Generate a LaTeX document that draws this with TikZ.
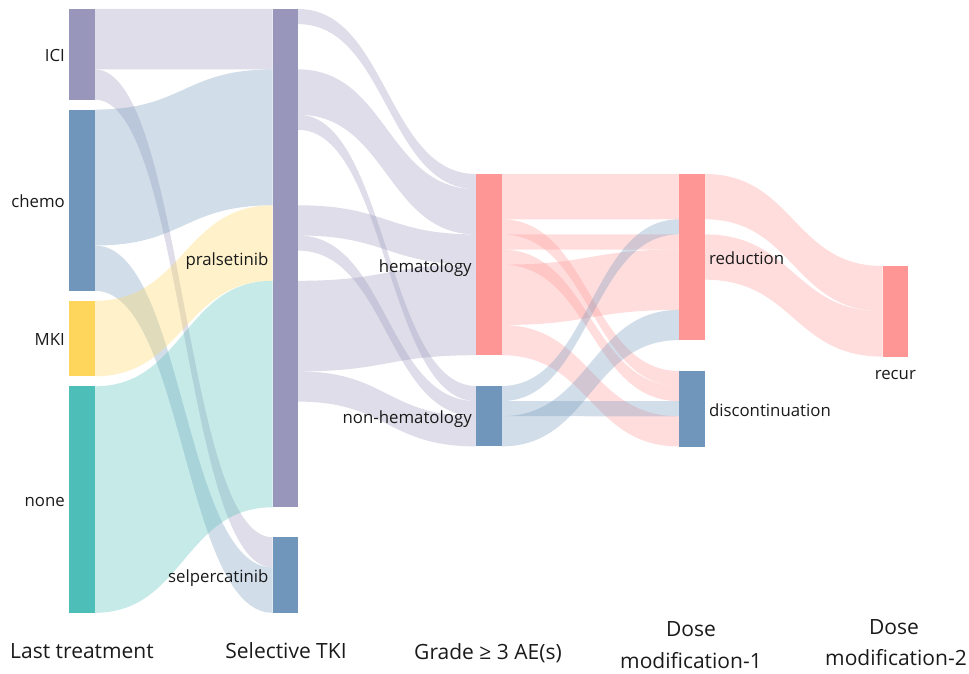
\documentclass[tikz,border=0pt]{standalone}
\usepackage{fontspec}
\setmainfont{Open Sans}
\usetikzlibrary{calc}
\definecolor{cpur}{HTML}{9896BA}
\definecolor{cblu}{HTML}{7196BB}
\definecolor{cyel}{HTML}{FFD65C}
\definecolor{cteal}{HTML}{4EBEB9}
\definecolor{cpink}{HTML}{FF9696}
\definecolor{ctext}{HTML}{1A1A1A}
\def\U{15.1pt}
\newcommand{\lnk}[6]{%
  \fill[#6, fill opacity=0.32] let \p1=(#1.north east), \p2=(#3.north west),
    \p3=($(\p1)!0.5!(\p2)$) in
    (\x1,{\y1-#2*\U}) .. controls (\x3,{\y1-#2*\U}) and (\x3,{\y2-#4*\U}) .. (\x2,{\y2-#4*\U})
    -- (\x2,{\y2-(#4+#5)*\U}) .. controls (\x3,{\y2-(#4+#5)*\U}) and (\x3,{\y1-(#2+#5)*\U}) .. (\x1,{\y1-(#2+#5)*\U})
    -- cycle;}
\begin{document}
\begin{tikzpicture}[x=1pt,y=-1pt,
  bar/.style={draw=none, inner sep=0pt, outer sep=0pt, minimum width=25.6pt, anchor=north west},
  lbl/.style={text=ctext, inner sep=0pt, font=\fontsize{16.8}{20}\selectfont},
  ttl/.style={text=ctext, inner sep=0pt, font=\fontsize{21}{32}\selectfont, align=center}]
\useasboundingbox (0,0) rectangle (969,674);
% nodes (bars)
\node[bar, fill=cpur,  minimum height=90.6pt]  (ici)   at (69.3,9) {};
\node[bar, fill=cblu,  minimum height=181.2pt] (chemo) at (69.3,109.6) {};
\node[bar, fill=cyel,  minimum height=75.5pt]  (mki)   at (69.3,300.8) {};
\node[bar, fill=cteal, minimum height=226.5pt] (none)  at (69.3,386.3) {};
\node[bar, fill=cpur,  minimum height=498.3pt] (pral)  at (272.6,9) {};
\node[bar, fill=cblu,  minimum height=75.5pt]  (selp)  at (272.6,537.3) {};
\node[bar, fill=cpink, minimum height=181.2pt] (hem)   at (475.9,174) {};
\node[bar, fill=cblu,  minimum height=60.4pt]  (nhem)  at (475.9,386) {};
\node[bar, fill=cpink, minimum height=166.1pt] (red)   at (679.2,174) {};
\node[bar, fill=cblu,  minimum height=75.5pt]  (disc)  at (679.2,371) {};
\node[bar, fill=cpink, minimum height=90.6pt]  (recur) at (882.5,266) {};
% links: last treatment -> selective TKI
\lnk{ici}{0}{pral}{0}{4}{cpur}
\lnk{ici}{4}{selp}{0}{2}{cpur}
\lnk{chemo}{0}{pral}{4}{9}{cblu}
\lnk{chemo}{9}{selp}{2}{3}{cblu}
\lnk{mki}{0}{pral}{13}{5}{cyel}
\lnk{none}{0}{pral}{18}{15}{cteal}
% selective TKI -> AE
\lnk{pral}{0}{hem}{0}{1}{cpur}
\lnk{pral}{4}{hem}{1}{3}{cpur}
\lnk{pral}{7}{nhem}{0}{1}{cpur}
\lnk{pral}{13}{hem}{4}{2}{cpur}
\lnk{pral}{15}{nhem}{1}{1}{cpur}
\lnk{pral}{18}{hem}{6}{6}{cpur}
\lnk{pral}{24}{nhem}{2}{2}{cpur}
% AE -> dose modification-1
\lnk{hem}{0}{red}{0}{3}{cpink}
\lnk{hem}{3}{disc}{0}{1}{cpink}
\lnk{hem}{4}{red}{4}{1}{cpink}
\lnk{hem}{5}{disc}{1}{1}{cpink}
\lnk{hem}{6}{red}{5}{4}{cpink}
\lnk{hem}{10}{disc}{3}{2}{cpink}
\lnk{nhem}{0}{red}{3}{1}{cblu}
\lnk{nhem}{1}{disc}{2}{1}{cblu}
\lnk{nhem}{2}{red}{9}{2}{cblu}
% dose modification-1 -> dose modification-2
\lnk{red}{0}{recur}{0}{3}{cpink}
\lnk{red}{4}{recur}{3}{3}{cpink}
% node labels
\node[lbl, anchor=mid east] (lici)   at (65,58.5)  {ICI};
\node[lbl, anchor=mid east] (lchemo) at (65,204.5) {chemo};
\node[lbl, anchor=mid east] (lmki)   at (65,342.5) {MKI};
\node[lbl, anchor=mid east] (lnone)  at (65,504) {none};
\node[lbl, anchor=mid east] (lpral)  at (268.6,262.5) {pralsetinib};
\node[lbl, anchor=mid east] (lselp)  at (268.6,580) {selpercatinib};
\node[lbl, anchor=mid east] (lhem)   at (471.9,269.5) {hematology};
\node[lbl, anchor=mid east] (lnhem)  at (471.9,421) {non-hematology};
\node[lbl, anchor=mid west] (lred)   at (708.8,262) {reduction};
\node[lbl, anchor=mid west] (ldisc)  at (708.8,413.5) {discontinuation};
\node[lbl, anchor=mid]      (lrecur) at (895.3,376.5) {recur};
% axis titles
\node[ttl, anchor=mid] (t1) at (82,656) {Last treatment};
\node[ttl, anchor=mid] (t2) at (286,656) {Selective TKI};
\node[ttl, anchor=mid] (t3) at (488,657) {Grade ≥ 3 AE(s)};
\node[ttl] (t4) at (691,645) {Dose\\modification-1};
\node[ttl, anchor=mid] (t5a) at (894,632) {Dose};
\node[ttl, anchor=mid east] (t5b) at (967,663) {modification-2};
\end{tikzpicture}
\end{document}
